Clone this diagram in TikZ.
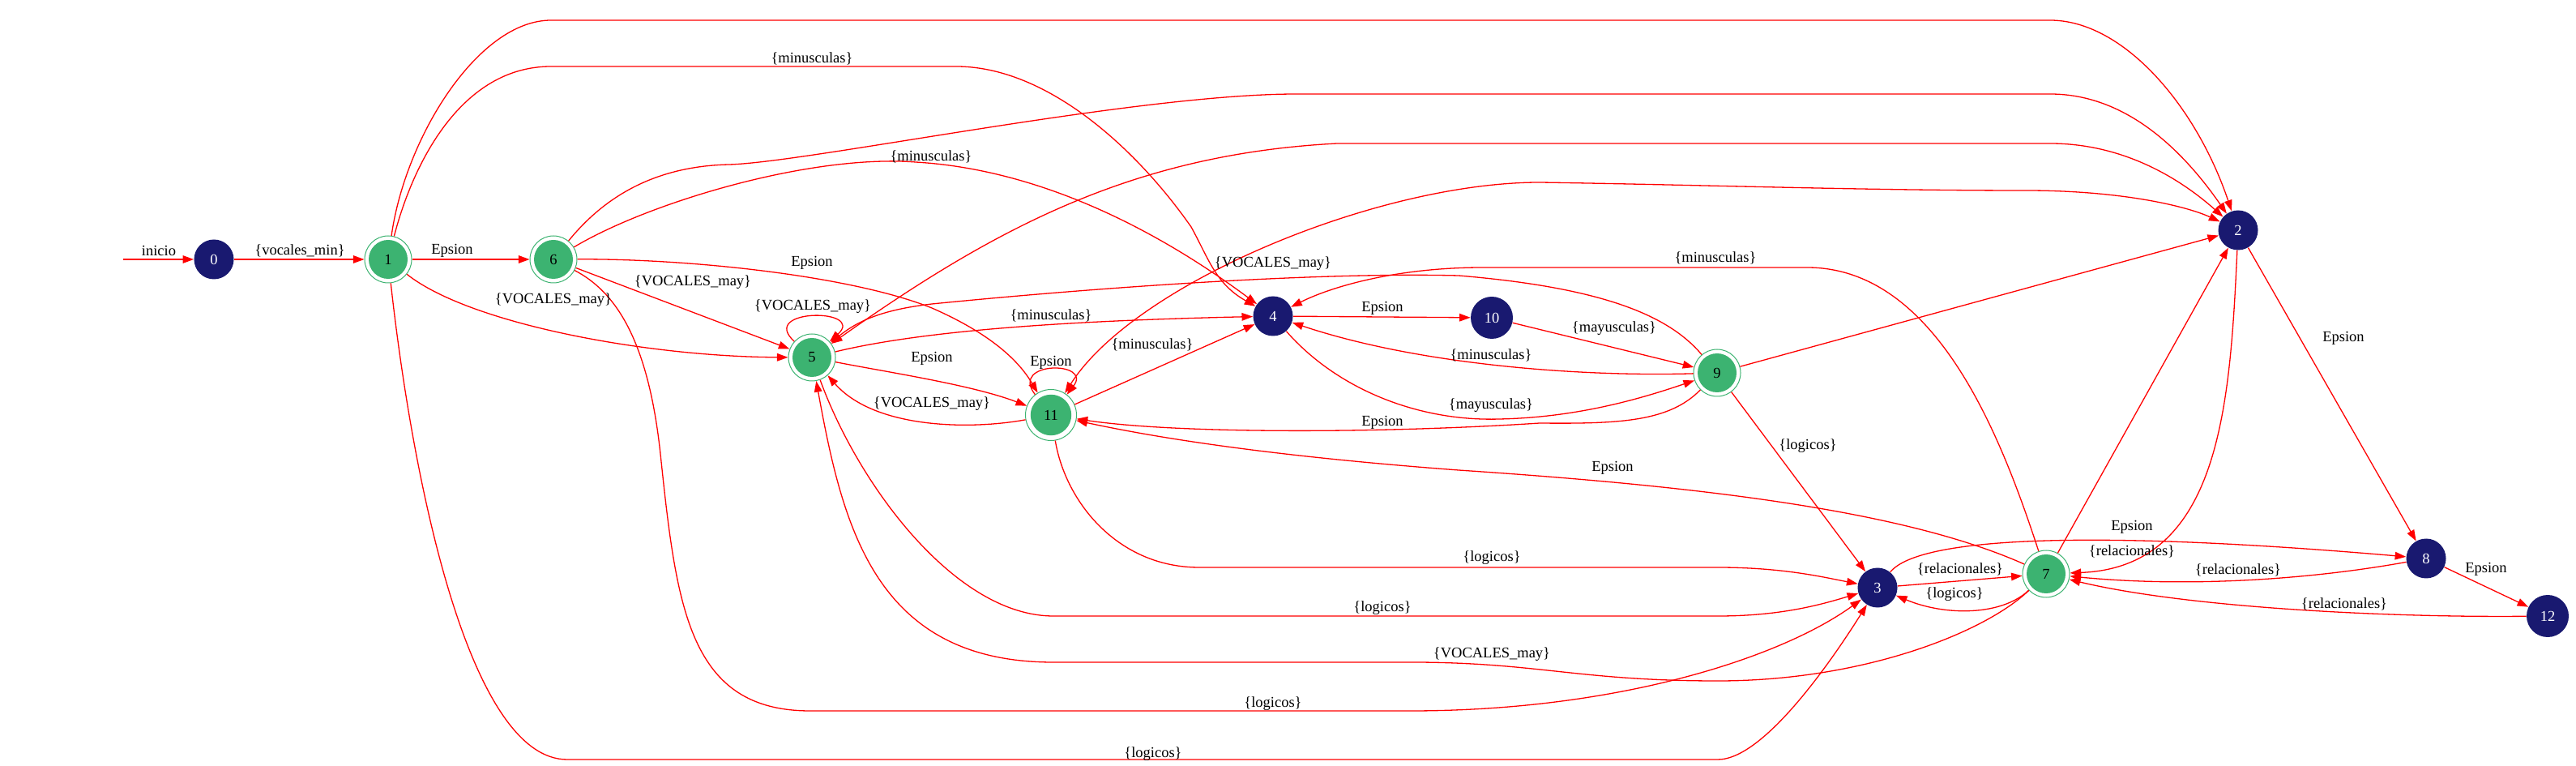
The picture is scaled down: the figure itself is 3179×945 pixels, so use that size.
\documentclass[tikz,border=0pt]{standalone}
\usepackage{fontspec}
\setmainfont{Liberation Serif}
\usetikzlibrary{arrows.meta}
\definecolor{navy}{RGB}{25,25,112}
\definecolor{accgreen}{RGB}{60,179,113}
\newcommand{\lblfont}{\fontsize{9.25}{11}\selectfont}
\begin{document}
\begin{tikzpicture}[x=0.5pt,y=-0.5pt,
  >={Triangle[length=6.8pt,width=4.8pt]},
  st/.style={circle, fill=navy, text=white, minimum size=24.5pt, inner sep=0pt, font=\lblfont},
  acc/.style={circle, draw=accgreen, line width=0.5pt, minimum size=29pt, inner sep=0pt, font=\lblfont,
    path picture={\fill[accgreen] (path picture bounding box.center) circle[radius=12pt];}},
  accbig/.style={circle, draw=accgreen, line width=0.5pt, minimum size=31.5pt, inner sep=0pt, font=\lblfont,
    path picture={\fill[accgreen] (path picture bounding box.center) circle[radius=12.6pt];}},
  tr/.style={draw=red, line width=0.65pt, ->},
  bi/.style={draw=red, line width=0.65pt, <->},
  lb/.style={inner sep=0pt, font=\lblfont}]
\useasboundingbox[fill=white] (0,0) rectangle (3179,945);

% states
\node[st] (n0) at (264,320) {0};
\node[acc] (n1) at (479,320) {1};
\node[acc] (n6) at (683,320) {6};
\node[acc] (n5) at (1002,441) {5};
\node[accbig] (n11) at (1297,512) {11};
\node[st] (n4) at (1571,390) {4};
\node[st, minimum size=26pt] (n10) at (1841,392) {10};
\node[acc] (n9) at (2119,460) {9};
\node[st] (n2) at (2762,284) {2};
\node[st] (n3) at (2317,725) {3};
\node[acc] (n7) at (2525,708) {7};
\node[st] (n8) at (2994,689) {8};
\node[st, minimum size=26pt] (n12) at (3144,760) {12};
\coordinate (s0) at (152,320);

% transitions
\draw[tr] (s0) -- (n0);
\draw[tr] (n0) -- (n1);
\draw[tr] (n1) -- (n6);
\draw[tr] (n1) .. controls (500,170) and (590,25) .. (680,25) -- (2530,25) .. controls (2620,25) and (2710,130) .. (n2);
\draw[tr] (n1) .. controls (510,200) and (570,82) .. (680,82) -- (1180,82) .. controls (1290,82) and (1400,180) .. (1470,280) .. controls (1492,320) and (1500,350) .. (n4);
\draw[tr] (n6) .. controls (740,250) and (800,205) .. (900,203) .. controls (1000,200) and (1400,116) .. (1600,116) -- (2530,116) .. controls (2620,116) and (2690,180) .. (n2);
\draw[tr] (n6) .. controls (800,250) and (1000,190) .. (1130,200) .. controls (1300,210) and (1450,300) .. (n4);
\draw[tr] (n6) .. controls (850,319) and (1050,340) .. (1150,380) .. controls (1230,415) and (1260,450) .. (n11);
\draw[tr] (n6) -- (n5);
\draw[tr] (n1) .. controls (580,400) and (800,440) .. (n5);
\draw[tr] (n1) .. controls (510,600) and (580,937) .. (700,937) -- (2120,937) .. controls (2180,937) and (2270,800) .. (n3);
\draw[tr] (n6) .. controls (760,360) and (800,420) .. (815,560) .. controls (835,750) and (850,877) .. (1000,877) -- (1740,877) .. controls (2000,877) and (2200,810) .. (n3);
\draw[tr] (n5) .. controls (1060,600) and (1180,760) .. (1300,760) -- (2120,760) .. controls (2200,760) and (2250,745) .. (n3);
\draw[tr] (n11) .. controls (1315,620) and (1380,700) .. (1480,700) -- (2120,700) .. controls (2200,700) and (2250,712) .. (n3);
\draw[tr] (n7) .. controls (2470,760) and (2400,760) .. (n3);
\draw[tr] (n3) -- (n7);
\draw[tr] (n3) .. controls (2370,660) and (2600,655) .. (n8);
\draw[tr] (n7) .. controls (2350,630) and (2100,600) .. (1800,580) .. controls (1600,565) and (1450,545) .. (n11);
\draw[tr] (n9) .. controls (2060,520) and (2000,523) .. (1900,522) .. controls (1700,535) and (1450,535) .. (n11);
\draw[tr] (n9) .. controls (1950,465) and (1750,450) .. (n4);
\draw[tr] (n4) .. controls (1650,480) and (1750,520) .. (1850,517) .. controls (1950,515) and (2030,490) .. (n9);
\draw[tr] (n4) -- (n10);
\draw[tr] (n10) -- (n9);
\draw[tr] (n9) -- (n2);
\draw[tr] (n9) -- (n3);
\draw[tr] (n9) .. controls (2060,390) and (1980,355) .. (1800,340) .. controls (1600,335) and (1300,360) .. (1150,375) .. controls (1090,382) and (1060,395) .. (n5);
\draw[tr] (n7) .. controls (2470,540) and (2390,330) .. (2230,330) -- (1830,330) .. controls (1720,330) and (1640,355) .. (n4);
\draw[tr] (n7) -- (n2);
\draw[tr] (n2) .. controls (2752,500) and (2740,700) .. (n7);
\draw[tr] (n2) -- (n8);
\draw[tr] (n8) .. controls (2850,715) and (2700,725) .. (n7);
\draw[tr] (n8) -- (n12);
\draw[tr] (n12) .. controls (2950,762) and (2700,750) .. (n7);
\draw[tr] (n7) .. controls (2450,780) and (2300,840) .. (2120,840) .. controls (1950,840) and (1900,818) .. (1750,817) -- (1300,817) .. controls (1080,817) and (1040,650) .. (n5);
\draw[tr] (n11) .. controls (1200,530) and (1080,530) .. (n5);
\draw[tr] (n5) .. controls (1100,460) and (1200,475) .. (n11);
\draw[tr] (n5) .. controls (1150,405) and (1350,395) .. (n4);
\draw[tr] (n11) -- (n4);
\draw[tr] (n5) .. controls (935,380) and (1070,380) .. (n5);
\draw[tr] (n11) .. controls (1245,445) and (1349,445) .. (n11);
\draw[bi] (n5) .. controls (1230,280) and (1400,190) .. (1650,177) -- (2530,177) .. controls (2620,177) and (2690,220) .. (n2);
\draw[bi] (n11) .. controls (1400,350) and (1700,225) .. (1900,225) .. controls (2100,228) and (2300,235) .. (2500,235) .. controls (2620,235) and (2700,255) .. (n2);

% labels
\node[lb] (l00) at (196,309) {inicio};
\node[lb] (l01) at (370,309) {\{vocales\_min\}};
\node[lb] (l02) at (558,309) {Epsion};
\node[lb] (l03) at (1002,72) {\{minusculas\}};
\node[lb] (l04) at (1149,193) {\{minusculas\}};
\node[lb] (l05) at (1002,324) {Epsion};
\node[lb] (l06) at (855,348) {\{VOCALES\_may\}};
\node[lb] (l07) at (683,370) {\{VOCALES\_may\}};
\node[lb] (l08) at (1003,378) {\{VOCALES\_may\}};
\node[lb] (l09) at (1297,389) {\{minusculas\}};
\node[lb] (l10) at (1150,442) {Epsion};
\node[lb] (l11) at (1297,447) {Epsion};
\node[lb] (l12) at (1422,425) {\{minusculas\}};
\node[lb] (l13) at (1150,498) {\{VOCALES\_may\}};
\node[lb] (l14) at (1571,325) {\{VOCALES\_may\}};
\node[lb] (l15) at (2117,318) {\{minusculas\}};
\node[lb] (l16) at (1706,380) {Epsion};
\node[lb] (l17) at (1992,405) {\{mayusculas\}};
\node[lb] (l18) at (1840,438) {\{minusculas\}};
\node[lb] (l19) at (1840,500) {\{mayusculas\}};
\node[lb] (l20) at (1706,521) {Epsion};
\node[lb] (l21) at (2892,417) {Epsion};
\node[lb] (l22) at (2231,550) {\{logicos\}};
\node[lb] (l23) at (1990,577) {Epsion};
\node[lb] (l24) at (2631,650) {Epsion};
\node[lb] (l25) at (2631,680) {\{relacionales\}};
\node[lb] (l26) at (2419,702) {\{relacionales\}};
\node[lb] (l27) at (2762,703) {\{relacionales\}};
\node[lb] (l28) at (3068,702) {Epsion};
\node[lb] (l29) at (2412,733) {\{logicos\}};
\node[lb] (l30) at (2893,745) {\{relacionales\}};
\node[lb] (l31) at (1841,688) {\{logicos\}};
\node[lb] (l32) at (1706,750) {\{logicos\}};
\node[lb] (l33) at (1841,807) {\{VOCALES\_may\}};
\node[lb] (l34) at (1571,868) {\{logicos\}};
\node[lb] (l35) at (1423,930) {\{logicos\}};
\end{tikzpicture}
\end{document}
